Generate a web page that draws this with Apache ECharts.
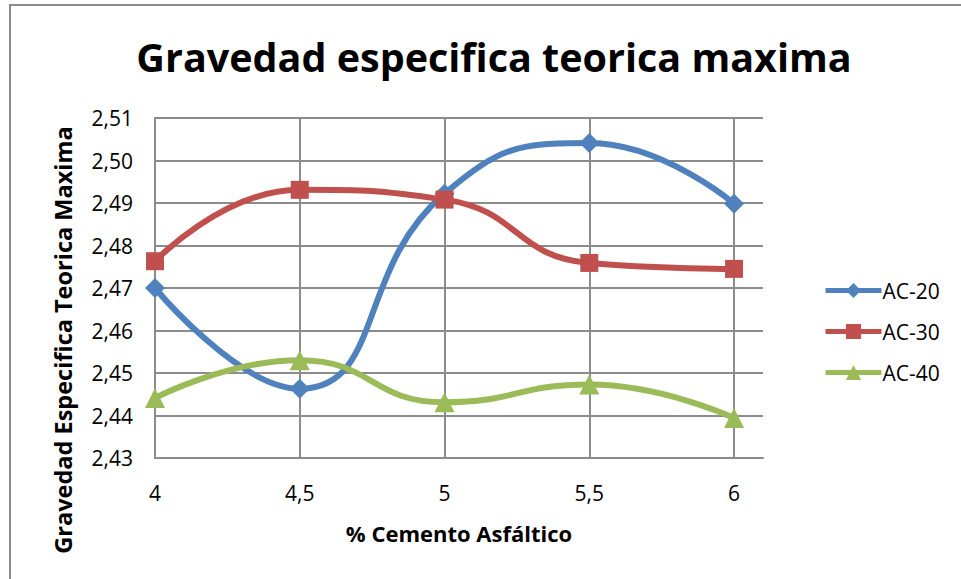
<!DOCTYPE html>
<html>
<head>
<meta charset="utf-8">
<script src="https://cdn.jsdelivr.net/npm/echarts@6/dist/echarts.min.js"></script>
<style>
  html, body { margin: 0; padding: 0; background: #fff; }
  #chart { width: 961px; height: 579px; }
</style>
</head>
<body>
<div id="chart"></div>
<script>
// % cemento asfaltico
const cemento = [4, 4.5, 5, 5.5, 6];
const ac20 = [2.4700, 2.4463, 2.4922, 2.5041, 2.4898];
const ac30 = [2.4763, 2.4931, 2.4908, 2.4759, 2.4745];
const ac40 = [2.4441, 2.4530, 2.4431, 2.4473, 2.4394];
const yTicks = [2.43, 2.44, 2.45, 2.46, 2.47, 2.48, 2.49, 2.50, 2.51];

const font = 'Open Sans';
const colors = ['#4F81BD', '#C0504D', '#9BBB59'];
const names = ['AC-20', 'AC-30', 'AC-40'];

function pairs (vals) {
  return cemento.map((x, i) => [x, vals[i]]);
}

function serie (idx, vals, symbol, size) {
  return {
    name: names[idx],
    type: 'line',
    smooth: 0.5,
    symbol: symbol,
    symbolSize: size,
    itemStyle: { color: colors[idx] },
    lineStyle: { width: 6, color: colors[idx] },
    data: pairs(vals)
  };
}

const chart = echarts.init(document.getElementById('chart'), null, { renderer: 'svg' });
chart.setOption({
  color: colors,
  animation: false,
  title: {
    text: 'Gravedad especifica teorica maxima',
    left: 489,
    textAlign: 'center',
    top: 32,
    textStyle: { fontFamily: font, fontWeight: 'bold', fontSize: 39.5, color: '#000' }
  },
  graphic: [{
    type: 'rect',
    shape: { x: 10, y: 5, width: 1000, height: 700 },
    style: { fill: 'none', stroke: '#8c8c8c', lineWidth: 2 },
    silent: true
  }],
  legend: {
    orient: 'vertical',
    left: 818,
    top: 275,
    itemGap: 20,
    itemWidth: 56,
    itemHeight: 19,
    lineStyle: { width: 5 },
    textStyle: { fontFamily: font, fontSize: 21, color: '#000', padding: [0, 0, 0, -4] },
    data: names
  },
  grid: { left: 155, top: 118, width: 608, height: 340, containLabel: false },
  xAxis: {
    type: 'value',
    min: 4,
    max: 6.1,
    interval: 0.5,
    name: '% Cemento Asfáltico',
    nameLocation: 'middle',
    nameGap: 64,
    nameTextStyle: { fontFamily: font, fontWeight: 'bold', fontSize: 22, color: '#000' },
    axisLine: { lineStyle: { color: '#8c8c8c', width: 2 } },
    axisTick: { show: false },
    axisLabel: {
      margin: 24,
      fontFamily: font, fontSize: 21, color: '#000',
      formatter: v => cemento.indexOf(v) >= 0 ? String(v).replace('.', ',') : ''
    },
    splitLine: { show: true, showMaxLine: false, lineStyle: { color: '#8c8c8c', width: 2 } }
  },
  yAxis: {
    type: 'value',
    min: yTicks[0],
    max: yTicks[yTicks.length - 1],
    interval: 0.01,
    name: 'Gravedad Especifica Teorica Maxima',
    nameLocation: 'middle',
    nameGap: 80,
    nameTextStyle: {
      fontFamily: font, fontWeight: 'bold', fontSize: 23.5, color: '#000',
      padding: [0, 104, 0, 0]
    },
    axisLine: { show: true, lineStyle: { color: '#8c8c8c', width: 2 } },
    axisTick: { show: false },
    axisLabel: {
      margin: 22,
      fontFamily: font, fontSize: 21, color: '#000',
      formatter: v => v.toFixed(2).replace('.', ',')
    },
    splitLine: { show: true, lineStyle: { color: '#8c8c8c', width: 2 } }
  },
  series: [
    serie(0, ac20, 'diamond', 20),
    serie(1, ac30, 'rect', 18),
    serie(2, ac40, 'triangle', 20)
  ]
});
</script>
</body>
</html>
